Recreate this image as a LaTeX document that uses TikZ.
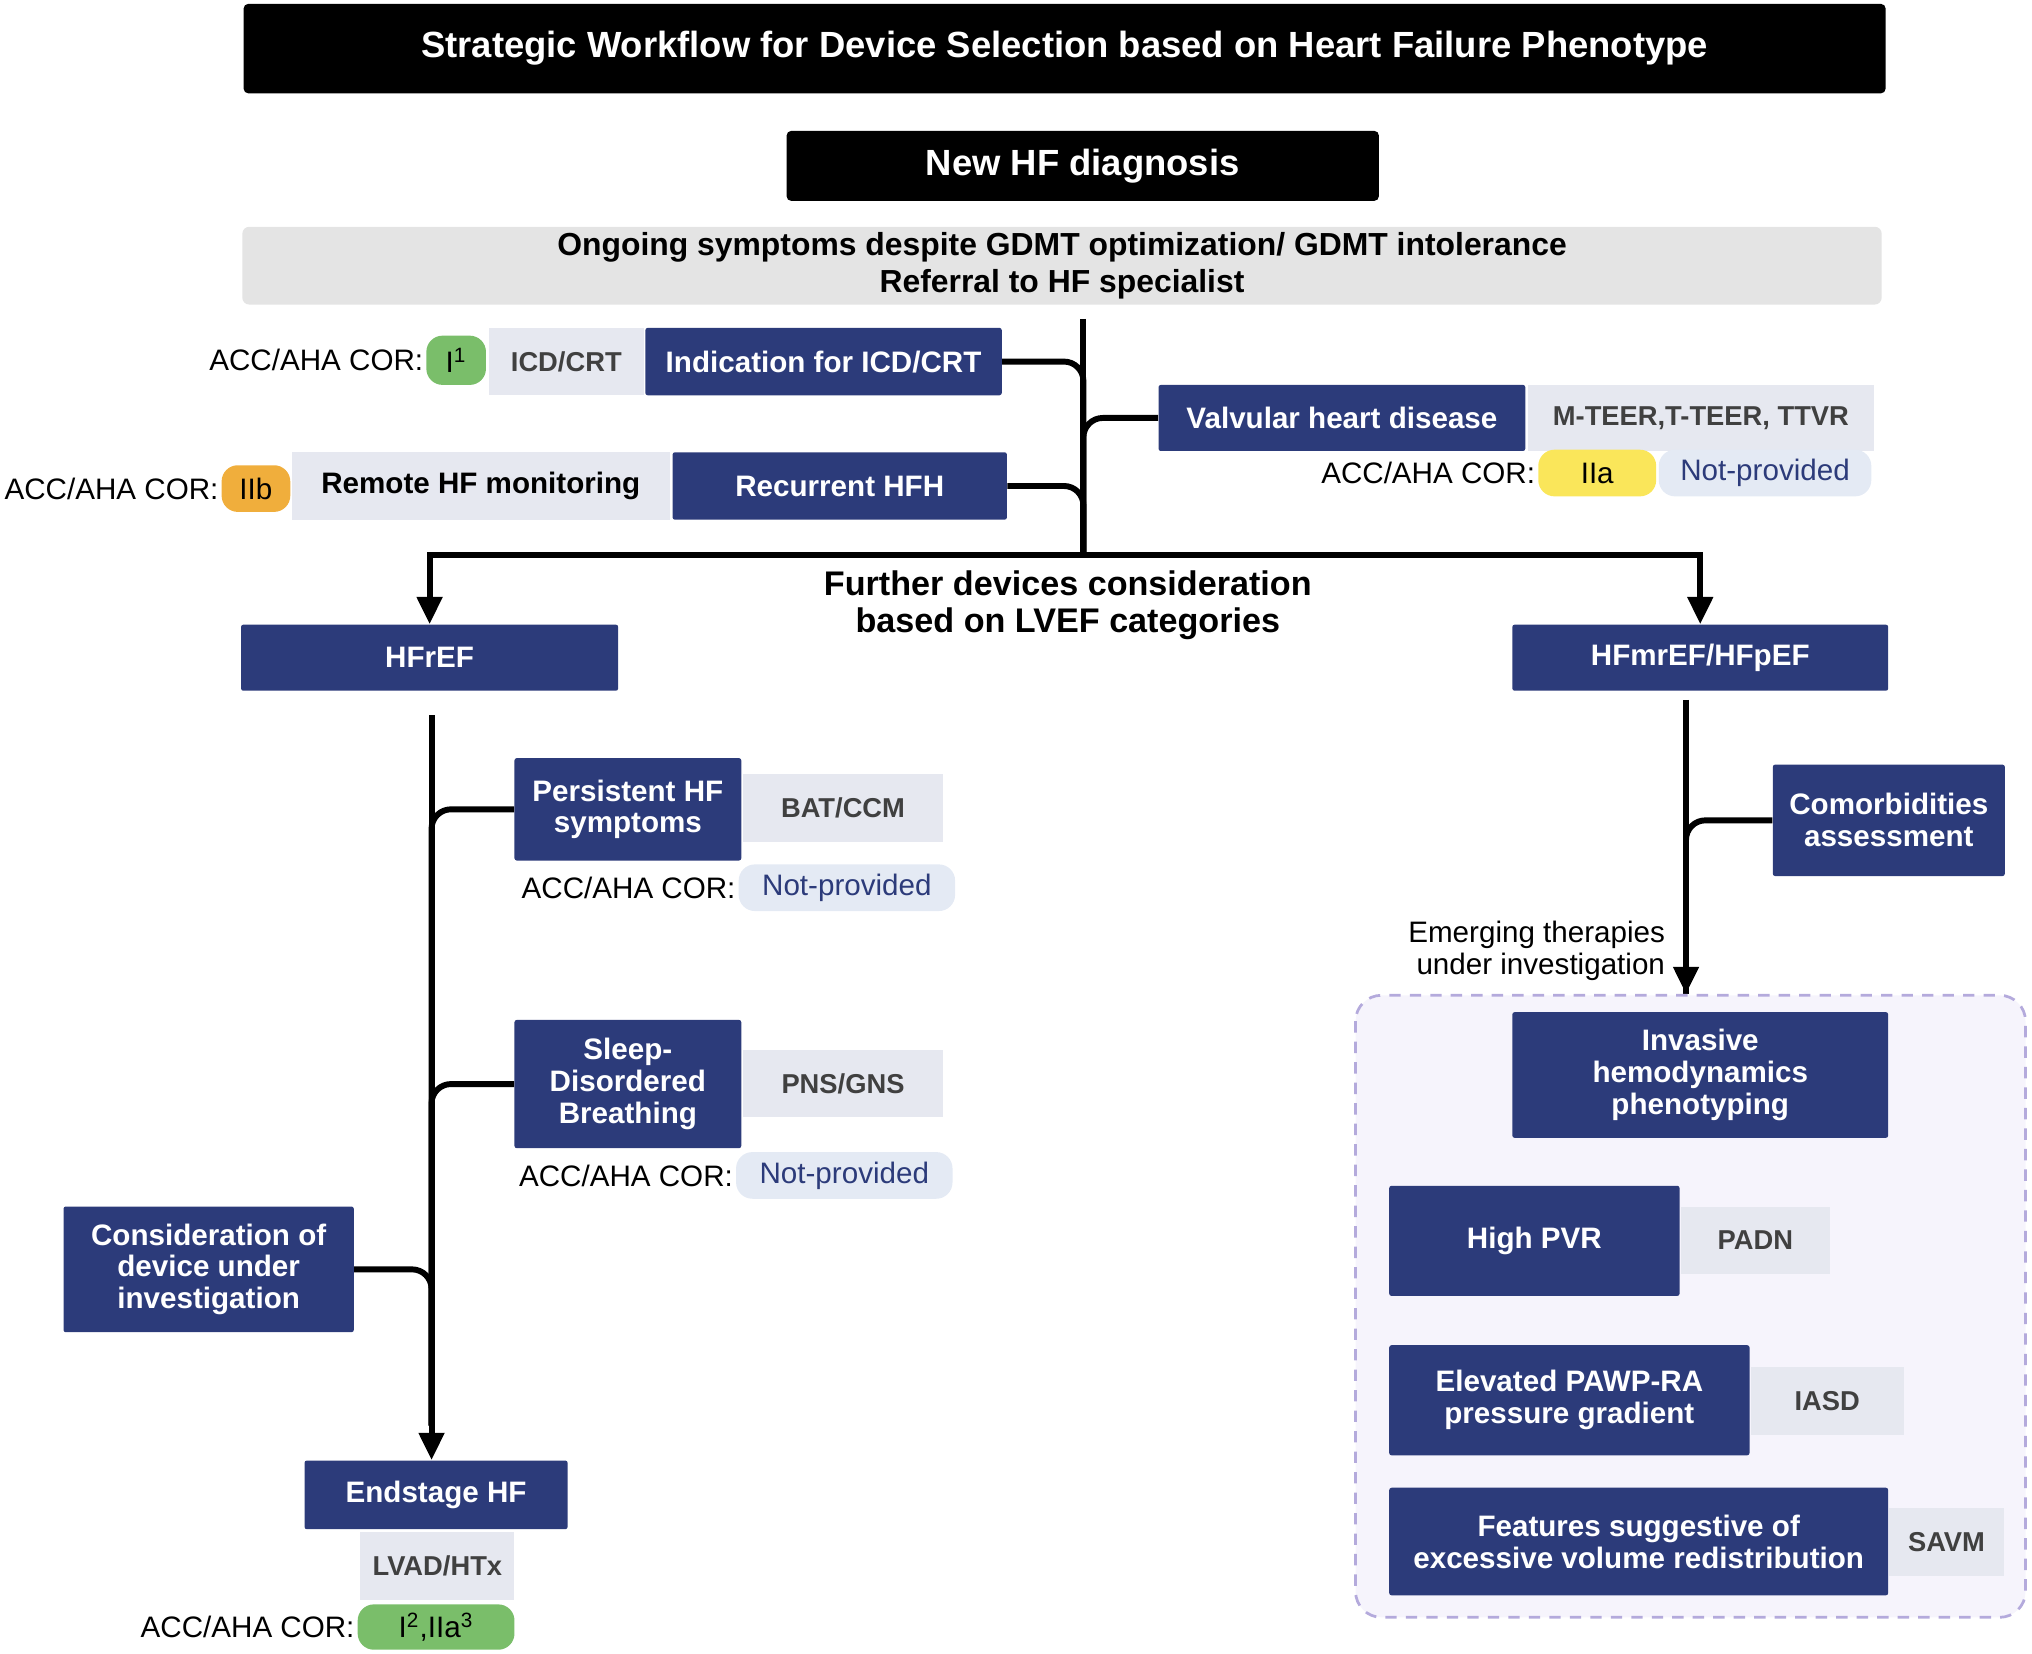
\documentclass[tikz,border=0pt]{standalone}
\usepackage{fontspec}
\setmainfont{Liberation Sans}
\usetikzlibrary{arrows.meta}
\definecolor{navy}{RGB}{44,59,122}
\definecolor{lgray}{RGB}{230,232,240}
\definecolor{band}{RGB}{228,228,228}
\definecolor{pgreen}{RGB}{122,190,106}
\definecolor{porange}{RGB}{240,174,60}
\definecolor{pyellow}{RGB}{250,230,90}
\definecolor{pblue}{RGB}{228,234,244}
\definecolor{lav}{RGB}{246,244,252}
\definecolor{lavline}{RGB}{180,170,220}
\tikzset{
  nbox/.style={fill=navy, text=white, font=\bfseries\fontsize{13}{14}\selectfont, align=center, inner sep=0pt, rounded corners=1pt},
  gbox/.style={fill=lgray, text=black!75, font=\bfseries\fontsize{12}{13}\selectfont, align=center, inner sep=0pt},
  kbox/.style={fill=black, text=white, font=\bfseries\fontsize{16}{17}\selectfont, align=center, inner sep=0pt, rounded corners=2pt},
  pill/.style={align=center, inner sep=0pt, rounded corners=0.25cm, font=\fontsize{13}{14}\selectfont},
  cortext/.style={anchor=east, font=\fontsize{13}{14}\selectfont, inner sep=1pt},
  conn/.style={line width=2.6pt, rounded corners=0.3cm},
  arr/.style={line width=2.6pt, -{Triangle[length=0.42cm,width=0.38cm]}}
}
% box from corner coordinates (px)
\newcommand{\bx}[7]{\node[#1, minimum width={(#5-#3)*0.02cm}, minimum height={(#6-#4)*0.02cm}] (#2) at ({(#3+#5)/2},{(#4+#6)/2}) {#7};}
\begin{document}
\begin{tikzpicture}[x=0.02cm, y=-0.02cm]
\useasboundingbox (0,0) rectangle (1568,1276);

% header
\bx{kbox}{title}{188}{3}{1455}{72}{Strategic Workflow for Device Selection based on Heart Failure Phenotype}
\bx{kbox}{newhf}{607}{101}{1064}{155}{New HF diagnosis}
\bx{gbox, fill=band, text=black, font=\bfseries\fontsize{14}{16}\selectfont, rounded corners=3pt}{ongoing}{187}{175}{1452}{235}{Ongoing symptoms despite GDMT optimization/ GDMT intolerance\\Referral to HF specialist}

% first level
\bx{nbox}{icd}{498}{253}{773}{305}{Indication for ICD/CRT}
\bx{gbox}{icdcrt}{377}{253}{497}{305}{ICD/CRT}
\bx{pill, fill=pgreen}{icdcor}{329}{259}{375}{297}{I\textsuperscript{1}}
\node[cortext] (icdlbl) at (icdcor.west) {ACC/AHA COR:};

\bx{nbox}{hfh}{519}{349}{777}{401}{Recurrent HFH}
\bx{gbox, text=black, font=\bfseries\fontsize{13}{14}\selectfont}{remote}{225}{349}{517}{401}{Remote HF monitoring}
\bx{pill, fill=porange}{hfhcor}{171}{359}{224}{395}{IIb}
\node[cortext] (hfhlbl) at (hfhcor.west) {ACC/AHA COR:};

\bx{nbox}{valve}{894}{297}{1177}{348}{Valvular heart disease}
\bx{gbox}{teer}{1179}{297}{1446}{348}{M-TEER,T-TEER, TTVR}
\bx{pill, fill=pyellow}{valvecor}{1187}{347}{1278}{383}{IIa}
\bx{pill, fill=pblue, text=navy}{valvenp}{1280}{347}{1444}{383}{Not-provided}
\node[cortext] (valvelbl) at (valvecor.west) {ACC/AHA COR:};

\coordinate (mtop) at (836,246);
\coordinate (mbot) at (836,428);
\draw[line width=2.6pt] (mtop) -- (mbot);
\draw[conn] (icd.east) -| (mbot);
\draw[conn] (hfh.east) -| (mbot);
\draw[conn] (valve.west) -| (mbot);

% LVEF categories
\bx{nbox}{hfref}{186}{482}{477}{533}{HFrEF}
\bx{nbox}{hfpef}{1167}{482}{1457}{533}{HFmrEF/HFpEF}
\draw[arr] (mbot) -| (hfref.north);
\draw[arr] (mbot) -| (hfpef.north);
\node[font=\bfseries\fontsize{15}{16}\selectfont, align=center] (further) at (824,467) {Further devices consideration\\based on LVEF categories};

% HFrEF branch
\bx{nbox}{persist}{397}{585}{572}{664}{Persistent HF\\symptoms}
\bx{gbox}{bat}{573}{597}{728}{650}{BAT/CCM}
\bx{pill, fill=pblue, text=navy}{batcor}{570}{667}{737}{703}{Not-provided}
\node[cortext] (batlbl) at (batcor.west) {ACC/AHA COR:};

\bx{nbox}{sleep}{397}{787}{572}{886}{Sleep-\\Disordered\\Breathing}
\bx{gbox}{pns}{573}{810}{728}{862}{PNS/GNS}
\bx{pill, fill=pblue, text=navy}{pnscor}{568}{889}{735}{925}{Not-provided}
\node[cortext] (pnslbl) at (pnscor.west) {ACC/AHA COR:};

\bx{nbox}{consid}{49}{931}{273}{1028}{Consideration of\\device under\\investigation}

\bx{nbox}{endhf}{235}{1127}{438}{1180}{Endstage HF}
\bx{gbox}{lvad}{278}{1182}{397}{1235}{LVAD/HTx}
\bx{pill, fill=pgreen}{lvadcor}{276}{1238}{397}{1273}{I\textsuperscript{2},IIa\textsuperscript{3}}
\node[cortext] (lvadlbl) at (lvadcor.west) {ACC/AHA COR:};

\coordinate (ltop) at (333,552);
\coordinate (lbot) at (333,1100);
\draw[arr] (ltop) -- (ltop |- endhf.north);
\draw[conn] (persist.west) -| (lbot);
\draw[conn] (sleep.west) -| (lbot);
\draw[conn] (consid.east) -| (lbot);

% HFmrEF/HFpEF branch
\bx{nbox}{comorb}{1368}{590}{1547}{676}{Comorbidities\\assessment}
\coordinate (rtop) at (1301,540);
\coordinate (rend) at (1301,767);
\draw[arr] (rtop) -- (rend);
\draw[conn] (comorb.west) -| (rend);
\node[align=right, anchor=east, font=\fontsize{13}{14}\selectfont] (emerg) at (1291,734) {Emerging therapies\\under investigation};

\draw[lavline, fill=lav, line width=1.2pt, dash pattern=on 5pt off 4pt, rounded corners=0.4cm] (1046,768) rectangle (1563,1248);
\bx{nbox}{invasive}{1167}{781}{1457}{878}{Invasive\\hemodynamics\\phenotyping}
\bx{nbox}{pvr}{1072}{915}{1296}{1000}{High PVR}
\bx{gbox}{padn}{1297}{931}{1412}{983}{PADN}
\bx{nbox}{pawp}{1072}{1038}{1350}{1123}{Elevated PAWP-RA\\pressure gradient}
\bx{gbox}{iasd}{1351}{1055}{1469}{1107}{IASD}
\bx{nbox}{volume}{1072}{1148}{1457}{1231}{Features suggestive of\\excessive volume redistribution}
\bx{gbox}{savm}{1458}{1164}{1546}{1216}{SAVM}
\end{tikzpicture}
\end{document}
